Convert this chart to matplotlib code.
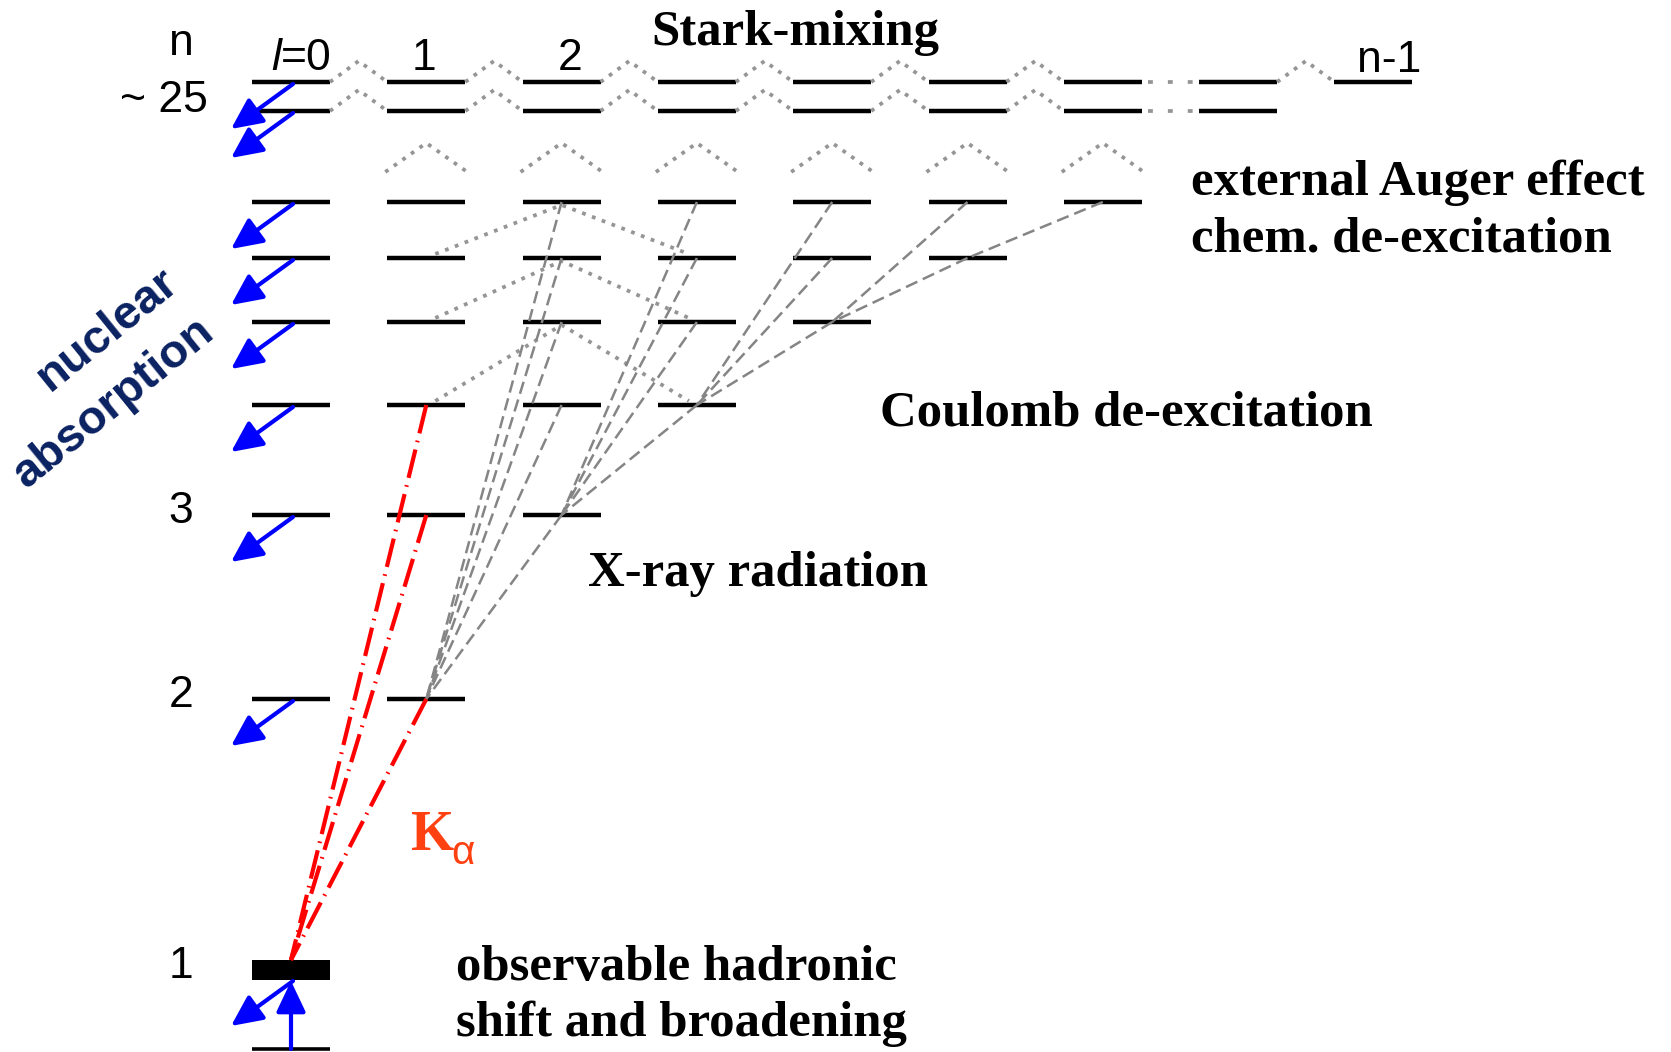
import matplotlib.pyplot as plt

#===== LEVEL SCHEME DATA =====
# principal quantum number of each drawn row, its height on the page (top = 0)
# and the highest orbital angular momentum l drawn in that row
n_levels = [25, 24, 7, 6, 5, 4, 3, 2, 1]
n_y      = [82, 111, 202, 258, 322, 405, 515, 699, 970]
n_lmax   = [7, 7, 6, 5, 4, 3, 2, 1, 0]
em_1s_y  = 1049                # pure electromagnetic 1s position
n_minus_1_col = 8              # the l = n-1 sublevel of the top row

# axis labels
n_axis_labels = ["~ 25", "3", "2", "1"]
n_axis_rows   = [24, 3, 2, 1]
l_axis_labels = ["=0", "1", "2"]
l_label_shift = [0, -2, 9]

# radiative cascade (gray dashed): upper (n, l) -> lower (n, l)
xray_upper = [(3, 2), (4, 2), (5, 2), (6, 2), (7, 2),
              (4, 3), (5, 3), (6, 3), (7, 3),
              (5, 4), (6, 4), (7, 4),
              (6, 5), (7, 5),
              (7, 6)]
xray_lower = [(2, 1), (2, 1), (2, 1), (2, 1), (2, 1),
              (3, 2), (3, 2), (3, 2), (3, 2),
              (4, 3), (4, 3), (4, 3),
              (5, 4), (5, 4),
              (6, 5)]

# np -> 1s lines (red), Coulomb de-excitation apexes, feeding from above
k_upper      = [(2, 1), (3, 1), (4, 1)]
coulomb_apex = [(7, 2), (6, 2), (5, 2)]
feed_cols    = [1, 2, 3, 4, 5, 6]
absorb_rows  = [25, 24, 7, 6, 5, 4, 3, 2, 1]

#===== GEOMETRY & STYLE =====
X0, DX, HALF = 291, 135.3, 39
Y = dict(zip(n_levels, n_y))

GRAY_DOT  = "#959595"
GRAY_DASH = "#858585"
BLUE      = "#0000ff"
RED       = "#ff0000"
NAVY      = "#0b2262"
KCOL      = "#ff4010"
SANS  = ["Liberation Sans Narrow", "Liberation Sans", "DejaVu Sans"]
SERIF = ["Liberation Serif", "DejaVu Serif"]

dotted  = dict(color=GRAY_DOT, lw=2.7, ls=(0, (1, 1.8)), zorder=3)
dashed  = dict(color=GRAY_DASH, lw=1.8, ls=(0, (5, 2.4)), zorder=3)
redline = dict(color=RED, lw=3.0, ls=(0, (7, 1.8, 0.4, 1.8)), zorder=4)


def col_x(l):
    return X0 + DX * l


def pos(state):
    n, l = state
    return col_x(l), Y[n]


def bar(l, y, lw=3.2):
    ax.plot([col_x(l) - HALF, col_x(l) + HALF], [y, y], color="k", lw=lw,
            solid_capstyle="butt", zorder=2)


fig = plt.figure(figsize=(16.71, 10.52), dpi=100)
ax = fig.add_axes([0, 0, 1, 1])
ax.set_xlim(0, 1671)
ax.set_ylim(1052, 0)
ax.axis("off")

#===== LEVELS =====
for n, lmax in zip(n_levels, n_lmax):
    if n == 1:
        continue
    for l in range(lmax + 1):
        bar(l, Y[n])
bar(n_minus_1_col, Y[25])
bar(0, Y[1], lw=14.4)        # shifted and broadened 1s
bar(0, em_1s_y, lw=2.6)

#===== STARK MIXING (top rows) =====
for n in (25, 24):
    y = Y[n]
    pairs = [(l, l + 1) for l in range(6)]
    if n == 25:
        pairs.append((7, n_minus_1_col))
    for a, b in pairs:
        xa, xb = col_x(a) + HALF, col_x(b) - HALF
        ax.plot([xa, (xa + xb) / 2, xb], [y, y - 21, y], **dotted)
    # sublevels left out between l = 6 and l = 7
    ax.plot([col_x(6) + HALF + 6, col_x(7) - HALF - 6], [y, y],
            color=GRAY_DOT, lw=2.7, ls=(0, (1.3, 4)), zorder=3)

# feeding from higher n into the n = 7 row
for l in feed_cols:
    x = col_x(l)
    ax.plot([x - 41, x, x + 41], [172, 143, 172], **dotted)

#===== COULOMB DE-EXCITATION =====
for n, l in coulomb_apex:
    y_lo = Y[n - 1] - 4
    ax.plot([col_x(l - 1) + 9, col_x(l), col_x(l + 1) - 8],
            [y_lo, Y[n] + 3, y_lo], **dotted)

#===== X-RAY CASCADE =====
for up, lo in zip(xray_upper, xray_lower):
    (x1, y1), (x2, y2) = pos(up), pos(lo)
    ax.plot([x1, x2], [y1, y2], **dashed)

for up in k_upper:
    x1, y1 = pos(up)
    ax.plot([x1, col_x(0)], [y1, Y[1] - 10], **redline)

#===== NUCLEAR ABSORPTION ARROWS =====
arrow_kw = dict(arrowstyle="-|>,head_length=0.95,head_width=0.45", color=BLUE,
                lw=3, mutation_scale=20, shrinkA=0, shrinkB=0)
for n in absorb_rows:
    y0 = Y[n] + (11 if n == 1 else 2)
    x0 = col_x(0) + 2
    ax.annotate("", xy=(x0 - 62, y0 + 45), xytext=(x0, y0),
                arrowprops=arrow_kw, zorder=5)
ax.annotate("", xy=(col_x(0), Y[1] + 11), xytext=(col_x(0), em_1s_y),
            arrowprops=arrow_kw, zorder=5)

#===== LABELS =====
lab = dict(family=SANS, fontsize=32, color="k", va="baseline")
ax.text(181, 55, "n", ha="center", **lab)
for text, n in zip(n_axis_labels, n_axis_rows):
    if text.startswith("~"):
        ax.text(208, Y[n] + 1, text, ha="right", **lab)
    else:
        ax.text(181, Y[n] + 8, text, ha="center", **lab)

ax.text(281, 70, "l", ha="right", style="italic", **lab)
ax.text(281, 70, l_axis_labels[0], ha="left", **lab)
for l in (1, 2):
    ax.text(col_x(l) + l_label_shift[l], 70, l_axis_labels[l],
            ha="center", **lab)
ax.text(col_x(n_minus_1_col) + 16, 72, "n-1", ha="center", **lab)

big = dict(family=SERIF, fontsize=36.5, weight="bold", color="k",
           ha="left", va="baseline")
ax.text(651, 45, "Stark-mixing", **big)
ax.text(1191, 195, "external Auger effect", **big)
ax.text(1191, 251, "chem. de-excitation", **big)
ax.text(880, 426, "Coulomb de-excitation", **big)
ax.text(588, 586, "X-ray radiation", **big)
ax.text(456, 980, "observable hadronic", **big)
ax.text(456, 1036, "shift and broadening", **big)

ax.text(411, 850, "K", family=SERIF, fontsize=40, weight="bold", color=KCOL,
        ha="left", va="baseline")
ax.text(451, 864, "α", family=SANS, fontsize=29, color=KCOL,
        ha="left", va="baseline")

rot = dict(family=["Liberation Sans", "DejaVu Sans"], fontsize=34,
           weight="bold", color=NAVY, rotation=39, rotation_mode="anchor",
           ha="center", va="center")
ax.text(107, 330, "nuclear", **rot)
ax.text(114, 403, "absorption", **rot)

plt.savefig("out.png", dpi=100)
